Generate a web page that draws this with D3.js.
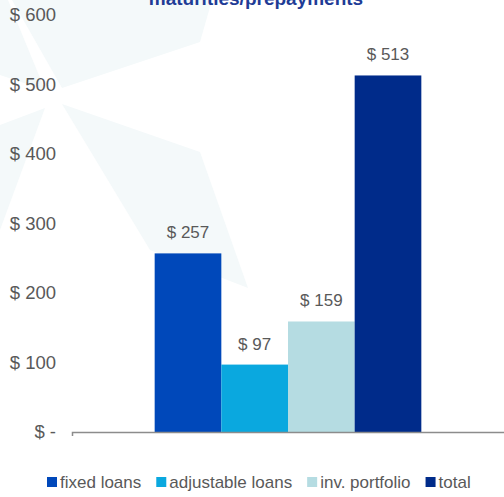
<!DOCTYPE html>
<html><head><meta charset="utf-8">
<script src="https://cdn.jsdelivr.net/npm/d3@7"></script>
<style>html,body{margin:0;padding:0;background:#fff;overflow:hidden}svg{display:block}text{font-family:"Liberation Sans",Arial,sans-serif}</style>
</head><body>
<svg id="c" width="504" height="497"></svg>
<script>
const title = "maturities/prepayments";
const series = ["fixed loans", "adjustable loans", "inv. portfolio", "total"];
const values = [257, 97, 159, 513];
const colors = ["#0048BA", "#0AA8DF", "#B5DCE2", "#002B8A"];
const yTicks = [0, 100, 200, 300, 400, 500, 600];
const yTickLabels = ["$ -", "$ 100", "$ 200", "$ 300", "$ 400", "$ 500", "$ 600"];

const svg = d3.select("#c");
// faint background decoration
const bg = svg.append("g").attr("fill", "#f4f9fa");
[
  [[12,0],[212,0],[200,42],[62,88]],
  [[62,104],[200,152],[248,288],[150,250]],
  [[0,0],[8,0],[45,90],[0,75]],
  [[45,108],[0,125],[0,230]]
].forEach(p => bg.append("polygon").attr("points", p.map(q => q.join(",")).join(" ")));

const y = d3.scaleLinear().domain([0, 600]).range([432, 15]);
const x = d3.scaleBand().domain(series).range([72, 504]).paddingInner(0).paddingOuter(1.24);

// title
svg.append("text").attr("x", 256).attr("y", 5).attr("text-anchor", "middle")
  .attr("font-size", 19).attr("font-weight", "bold").attr("fill", "#1F3C96").text(title);

// y tick labels
svg.append("g").selectAll("text").data(yTicks).join("text")
  .attr("x", 56).attr("y", d => y(d)).attr("dy", "0.33em").attr("text-anchor", "end")
  .attr("font-size", 18.5).attr("fill", "#595959")
  .text((d, i) => yTickLabels[i]);

// bars
svg.append("g").selectAll("rect").data(values).join("rect")
  .attr("x", (d, i) => x(series[i])).attr("width", x.bandwidth())
  .attr("y", d => y(d)).attr("height", d => y(0) - y(d))
  .attr("fill", (d, i) => colors[i]);

// value labels
svg.append("g").selectAll("text").data(values).join("text")
  .attr("x", (d, i) => x(series[i]) + x.bandwidth() / 2).attr("y", d => y(d) - 15)
  .attr("text-anchor", "middle").attr("font-size", 17).attr("fill", "#595959")
  .text(d => "$ " + d);

// x axis line
const xl = d3.scaleLinear().domain([0, 1]).range([72, 506]);
const ax = svg.append("g").attr("transform", "translate(0," + y(0) + ")")
  .call(d3.axisBottom(xl).tickValues([]).tickSizeOuter(4));
ax.select(".domain").attr("stroke", "#8c8c8c").attr("stroke-width", 1.5);

// legend
const lg = svg.append("g").attr("transform", "translate(47,488)");
let cx = 0;
series.forEach((s, i) => {
  lg.append("rect").attr("x", cx).attr("y", -11).attr("width", 10).attr("height", 10).attr("fill", colors[i]);
  const t = lg.append("text").attr("x", cx + 13).attr("y", 0).attr("font-size", 17).attr("fill", "#595959").text(s);
  cx += 13 + t.node().getComputedTextLength() + 15;
});
</script>
</body></html>
